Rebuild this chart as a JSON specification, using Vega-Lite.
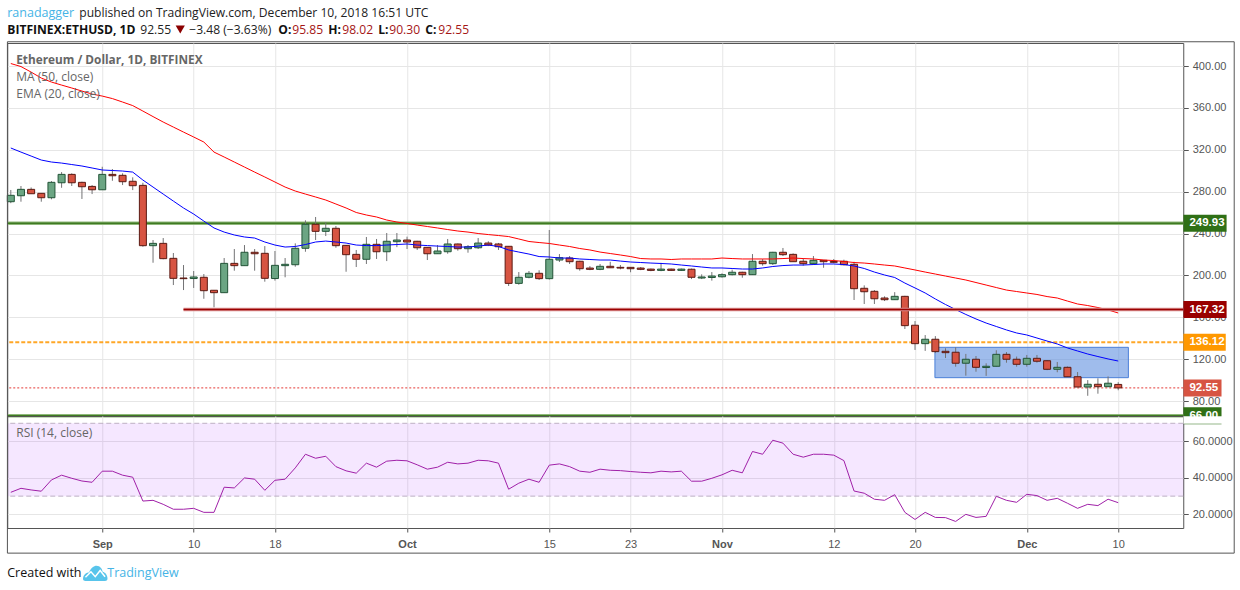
{"$schema":"https://vega.github.io/schema/vega-lite/v6.json","background":"white","padding":{"left":4.25,"top":0,"right":0,"bottom":0},"bounds":"flush","spacing":0,"config":{"view":{"stroke":null},"text":{"font":"Open Sans"}},
"datasets":{"d":[
{"date":"2018-08-23","o":270.4,"h":281.6,"l":269,"c":276.5,"ma":402.4,"ema":321.7,"rsi":32.1},
{"date":"2018-08-24","o":276.1,"h":285.4,"l":270.4,"c":282.2,"ma":399.5,"ema":317.8,"rsi":34.3},
{"date":"2018-08-25","o":282.2,"h":284,"l":278,"c":278,"ma":394.2,"ema":314,"rsi":33.4},
{"date":"2018-08-26","o":278.4,"h":278.4,"l":270.4,"c":274.2,"ma":388.5,"ema":310.2,"rsi":32.7},
{"date":"2018-08-27","o":274.2,"h":290.1,"l":272.7,"c":288.9,"ma":384.7,"ema":308.3,"rsi":38.9},
{"date":"2018-08-28","o":288.5,"h":298.7,"l":283.7,"c":296.5,"ma":381.8,"ema":307.3,"rsi":41.5},
{"date":"2018-08-29","o":296.5,"h":297.5,"l":285.4,"c":288.5,"ma":379,"ema":305.9,"rsi":39.8},
{"date":"2018-08-30","o":288.9,"h":289.5,"l":273,"c":284.7,"ma":376.1,"ema":304.5,"rsi":38.3},
{"date":"2018-08-31","o":285,"h":286.3,"l":277.7,"c":281.8,"ma":373.2,"ema":302.6,"rsi":37.6},
{"date":"2018-09-01","o":281.8,"h":303.8,"l":281.8,"c":296.5,"ma":371.3,"ema":300.7,"rsi":43.7},
{"date":"2018-09-02","o":296.5,"h":301.6,"l":290.4,"c":295.2,"ma":368.9,"ema":300.2,"rsi":43.7},
{"date":"2018-09-03","o":295.6,"h":297.5,"l":286.3,"c":289.5,"ma":365.6,"ema":299.7,"rsi":41.5},
{"date":"2018-09-04","o":289.9,"h":293.7,"l":281.5,"c":285.7,"ma":362.2,"ema":298.7,"rsi":40.4},
{"date":"2018-09-05","o":286,"h":288.5,"l":227.4,"c":228.4,"ma":357,"ema":291.1,"rsi":27.3},
{"date":"2018-09-06","o":228.4,"h":233.8,"l":212.1,"c":230.6,"ma":351.7,"ema":284.4,"rsi":27.7},
{"date":"2018-09-07","o":230.6,"h":235.7,"l":215.4,"c":216,"ma":346.5,"ema":277.7,"rsi":25.5},
{"date":"2018-09-08","o":216.3,"h":221.4,"l":190.8,"c":197.2,"ma":341.7,"ema":271,"rsi":22.8},
{"date":"2018-09-09","o":197.5,"h":209.9,"l":186,"c":196.9,"ma":336.9,"ema":264.4,"rsi":22.8},
{"date":"2018-09-10","o":197,"h":204.2,"l":188,"c":198.5,"ma":332.2,"ema":258.6,"rsi":23.3},
{"date":"2018-09-11","o":198.2,"h":201.3,"l":177.7,"c":185.4,"ma":327.4,"ema":251.9,"rsi":21.1},
{"date":"2018-09-12","o":185.8,"h":186,"l":169.5,"c":183.5,"ma":317.8,"ema":245.3,"rsi":21.1},
{"date":"2018-09-13","o":183.5,"h":216.6,"l":183.5,"c":211.5,"ma":313.1,"ema":241.4,"rsi":34.9},
{"date":"2018-09-14","o":211.5,"h":225.2,"l":204.5,"c":209.3,"ma":308.3,"ema":238.6,"rsi":34.5},
{"date":"2018-09-15","o":209.3,"h":229,"l":209.3,"c":222.1,"ma":303.5,"ema":236.7,"rsi":40},
{"date":"2018-09-16","o":222.1,"h":225.2,"l":204.5,"c":220.7,"ma":298.7,"ema":235.7,"rsi":39.3},
{"date":"2018-09-17","o":221.1,"h":228,"l":194,"c":197.2,"ma":294,"ema":231.9,"rsi":33.2},
{"date":"2018-09-18","o":197,"h":223.3,"l":195,"c":209.6,"ma":289.2,"ema":229,"rsi":38.7},
{"date":"2018-09-19","o":209.3,"h":216.6,"l":198.2,"c":210.6,"ma":284.4,"ema":227.1,"rsi":39.3},
{"date":"2018-09-20","o":210.2,"h":230.6,"l":208.3,"c":225.9,"ma":280.6,"ema":227.6,"rsi":45.5},
{"date":"2018-09-21","o":225.9,"h":252.6,"l":222.6,"c":248.8,"ma":277.7,"ema":229.5,"rsi":53},
{"date":"2018-09-22","o":248.8,"h":255.8,"l":233.8,"c":242.1,"ma":274.9,"ema":231.9,"rsi":50.8},
{"date":"2018-09-23","o":242.1,"h":250.7,"l":237.6,"c":245,"ma":272,"ema":232.8,"rsi":51.9},
{"date":"2018-09-24","o":245,"h":247.2,"l":226.4,"c":228.4,"ma":268.2,"ema":231.9,"rsi":46.2},
{"date":"2018-09-25","o":228.7,"h":229,"l":203.5,"c":219.8,"ma":264.4,"ema":230.9,"rsi":43.9},
{"date":"2018-09-26","o":220.1,"h":224.3,"l":208,"c":215.4,"ma":260.1,"ema":229,"rsi":42.6},
{"date":"2018-09-27","o":215.4,"h":236.7,"l":210.9,"c":229.7,"ma":257.7,"ema":228.5,"rsi":48.1},
{"date":"2018-09-28","o":229.7,"h":234.8,"l":215.7,"c":222.6,"ma":255.8,"ema":228.5,"rsi":45.9},
{"date":"2018-09-29","o":222.6,"h":240.5,"l":213.7,"c":232.6,"ma":252.9,"ema":229,"rsi":49.2},
{"date":"2018-09-30","o":232.2,"h":240.5,"l":227,"c":233.8,"ma":251,"ema":229.5,"rsi":49.7},
{"date":"2018-10-01","o":233.8,"h":237,"l":225.2,"c":231.9,"ma":249.6,"ema":230,"rsi":49.4},
{"date":"2018-10-02","o":232.6,"h":233,"l":224.3,"c":226.4,"ma":248.1,"ema":229,"rsi":47.2},
{"date":"2018-10-03","o":226.8,"h":227,"l":214.7,"c":220.7,"ma":246.7,"ema":228.5,"rsi":44.8},
{"date":"2018-10-04","o":220.7,"h":229,"l":220.5,"c":223.3,"ma":245.3,"ema":228,"rsi":45.9},
{"date":"2018-10-05","o":222.6,"h":234.8,"l":220.7,"c":230,"ma":243.8,"ema":227.6,"rsi":48.6},
{"date":"2018-10-06","o":230,"h":230.5,"l":223.6,"c":225.5,"ma":242.4,"ema":227.1,"rsi":47.7},
{"date":"2018-10-07","o":225.5,"h":229,"l":221.7,"c":227.4,"ma":241.4,"ema":227.1,"rsi":48.1},
{"date":"2018-10-08","o":226.4,"h":235.7,"l":225.2,"c":230.9,"ma":240,"ema":228,"rsi":49.7},
{"date":"2018-10-09","o":230.9,"h":232.6,"l":228,"c":229,"ma":239,"ema":229,"rsi":49.4},
{"date":"2018-10-10","o":230,"h":231,"l":224.3,"c":227.4,"ma":238.1,"ema":227.6,"rsi":48.1},
{"date":"2018-10-11","o":227.8,"h":228,"l":189.9,"c":192.4,"ma":237.1,"ema":224.3,"rsi":33.8},
{"date":"2018-10-12","o":192.4,"h":203.2,"l":191.1,"c":198.2,"ma":234.8,"ema":222.3,"rsi":37.1},
{"date":"2018-10-13","o":198.2,"h":204.2,"l":197.2,"c":202,"ma":232.4,"ema":220.4,"rsi":39.3},
{"date":"2018-10-14","o":202,"h":204.9,"l":195.6,"c":196.9,"ma":231.4,"ema":218,"rsi":37.6},
{"date":"2018-10-15","o":196.9,"h":243.4,"l":196,"c":215.4,"ma":230.5,"ema":217.6,"rsi":47},
{"date":"2018-10-16","o":214.7,"h":220.4,"l":212.8,"c":216.9,"ma":229,"ema":216.6,"rsi":47.7},
{"date":"2018-10-17","o":216.6,"h":218.5,"l":210.9,"c":213.1,"ma":227.6,"ema":216.6,"rsi":46.2},
{"date":"2018-10-18","o":213.5,"h":214,"l":204.5,"c":206.4,"ma":225.7,"ema":215.7,"rsi":43.7},
{"date":"2018-10-19","o":207,"h":208.9,"l":205,"c":205.8,"ma":224.3,"ema":215.2,"rsi":43.1},
{"date":"2018-10-20","o":205.8,"h":210.9,"l":205,"c":208.7,"ma":222.3,"ema":214.7,"rsi":44.8},
{"date":"2018-10-21","o":208.7,"h":213,"l":207,"c":207.3,"ma":220.9,"ema":214.7,"rsi":44.2},
{"date":"2018-10-22","o":207.7,"h":209.9,"l":205.8,"c":207,"ma":219.5,"ema":213.7,"rsi":44},
{"date":"2018-10-23","o":207.7,"h":208,"l":203,"c":206.4,"ma":218,"ema":212.8,"rsi":43.5},
{"date":"2018-10-24","o":207,"h":208,"l":205,"c":205.8,"ma":216.1,"ema":212.3,"rsi":43.1},
{"date":"2018-10-25","o":206,"h":206.5,"l":204,"c":204.8,"ma":215.7,"ema":211.8,"rsi":42.8},
{"date":"2018-10-26","o":204.8,"h":212,"l":204,"c":206,"ma":215.7,"ema":211.4,"rsi":43.7},
{"date":"2018-10-27","o":206,"h":206.5,"l":204.2,"c":204.8,"ma":215.2,"ema":210.9,"rsi":43.3},
{"date":"2018-10-28","o":204.8,"h":206.5,"l":204.2,"c":206,"ma":215.7,"ema":209.9,"rsi":43.7},
{"date":"2018-10-29","o":205.9,"h":206.5,"l":196.5,"c":198.2,"ma":215.7,"ema":209,"rsi":38.2},
{"date":"2018-10-30","o":197.5,"h":201,"l":196.5,"c":198.5,"ma":215.7,"ema":208,"rsi":38.2},
{"date":"2018-10-31","o":198,"h":203.2,"l":195,"c":199.4,"ma":215.7,"ema":207.1,"rsi":39.8},
{"date":"2018-11-01","o":198.7,"h":202,"l":197.9,"c":200.7,"ma":216.6,"ema":207.1,"rsi":41.7},
{"date":"2018-11-02","o":200.7,"h":205.5,"l":200,"c":203,"ma":216.1,"ema":206.6,"rsi":44.2},
{"date":"2018-11-03","o":203,"h":203.5,"l":197.8,"c":200.7,"ma":215.7,"ema":206.1,"rsi":42.8},
{"date":"2018-11-04","o":200.7,"h":220.4,"l":200.5,"c":213.5,"ma":215.7,"ema":206.1,"rsi":54.5},
{"date":"2018-11-05","o":213.5,"h":215.7,"l":209.3,"c":211.2,"ma":215.7,"ema":207.1,"rsi":53},
{"date":"2018-11-06","o":211.2,"h":222.5,"l":210,"c":222.1,"ma":215.7,"ema":208.5,"rsi":60.7},
{"date":"2018-11-07","o":222.1,"h":226.2,"l":218.5,"c":219.8,"ma":216.1,"ema":209.4,"rsi":59.1},
{"date":"2018-11-08","o":220.1,"h":221,"l":213,"c":213.1,"ma":216.6,"ema":209.9,"rsi":53},
{"date":"2018-11-09","o":213.5,"h":216.6,"l":209.3,"c":211.2,"ma":216.1,"ema":209.9,"rsi":51.4},
{"date":"2018-11-10","o":211.2,"h":218.5,"l":210,"c":214.4,"ma":215.7,"ema":210.4,"rsi":53},
{"date":"2018-11-11","o":214.4,"h":214.8,"l":207.3,"c":213.1,"ma":214.7,"ema":210.9,"rsi":53},
{"date":"2018-11-12","o":213.3,"h":215.7,"l":211.5,"c":212.5,"ma":214.2,"ema":210.9,"rsi":52.5},
{"date":"2018-11-13","o":213.5,"h":215,"l":209.5,"c":210.2,"ma":213.3,"ema":210.4,"rsi":49.5},
{"date":"2018-11-14","o":210.6,"h":213,"l":176.5,"c":187.3,"ma":212.3,"ema":209,"rsi":32.8},
{"date":"2018-11-15","o":187.7,"h":190.5,"l":172.7,"c":184.4,"ma":211.8,"ema":206.6,"rsi":31.6},
{"date":"2018-11-16","o":184.8,"h":186,"l":172.7,"c":177.7,"ma":210.9,"ema":203.2,"rsi":28.3},
{"date":"2018-11-17","o":178.4,"h":180,"l":175.5,"c":176.8,"ma":209.9,"ema":200.4,"rsi":27.7},
{"date":"2018-11-18","o":176.8,"h":184,"l":176.5,"c":180,"ma":209,"ema":198,"rsi":30.8},
{"date":"2018-11-19","o":180,"h":180.5,"l":148.8,"c":152,"ma":207.1,"ema":192.7,"rsi":21.1},
{"date":"2018-11-20","o":152.4,"h":156.4,"l":128.8,"c":134.8,"ma":205.2,"ema":188,"rsi":17.2},
{"date":"2018-11-21","o":134.8,"h":143,"l":127.9,"c":139,"ma":203.2,"ema":183.2,"rsi":21.1},
{"date":"2018-11-22","o":139,"h":142,"l":125.8,"c":127.2,"ma":201.3,"ema":177.5,"rsi":18.3},
{"date":"2018-11-23","o":127.5,"h":130.4,"l":121.1,"c":126.2,"ma":199.4,"ema":172.2,"rsi":18.2},
{"date":"2018-11-24","o":126.6,"h":131.3,"l":112.8,"c":116.1,"ma":197.5,"ema":167.4,"rsi":16.1},
{"date":"2018-11-25","o":116.1,"h":125,"l":104.2,"c":119.9,"ma":195.6,"ema":162.7,"rsi":20},
{"date":"2018-11-26","o":119.9,"h":123,"l":108,"c":112.2,"ma":193.2,"ema":158.4,"rsi":18.3},
{"date":"2018-11-27","o":112,"h":116,"l":104,"c":113.2,"ma":190.8,"ema":154.5,"rsi":18.9},
{"date":"2018-11-28","o":113.2,"h":128.5,"l":113,"c":124.6,"ma":188.4,"ema":151.2,"rsi":29.9},
{"date":"2018-11-29","o":124.6,"h":126.8,"l":116.6,"c":119.9,"ma":186,"ema":147.9,"rsi":27.7},
{"date":"2018-11-30","o":119.9,"h":122.5,"l":112.8,"c":115.1,"ma":184.6,"ema":145,"rsi":26.6},
{"date":"2018-12-01","o":115.1,"h":124,"l":112.8,"c":120.8,"ma":183.2,"ema":143.1,"rsi":31},
{"date":"2018-12-02","o":120.8,"h":124,"l":116.6,"c":118,"ma":181.8,"ema":140.2,"rsi":30.3},
{"date":"2018-12-03","o":118.5,"h":119,"l":109.5,"c":110.3,"ma":179.8,"ema":137.3,"rsi":27.7},
{"date":"2018-12-04","o":110.3,"h":117.3,"l":107.5,"c":112.2,"ma":178.4,"ema":134.5,"rsi":28.8},
{"date":"2018-12-05","o":112.2,"h":113,"l":103,"c":103.2,"ma":175.5,"ema":130.7,"rsi":26.1},
{"date":"2018-12-06","o":103.2,"h":107.7,"l":93.4,"c":93.4,"ma":172.7,"ema":127.8,"rsi":23.3},
{"date":"2018-12-07","o":93.4,"h":100,"l":85,"c":96,"ma":171.2,"ema":124.9,"rsi":25.5},
{"date":"2018-12-08","o":96,"h":101.7,"l":87,"c":93.7,"ma":169.3,"ema":122.5,"rsi":24.8},
{"date":"2018-12-09","o":93.7,"h":103.5,"l":93.5,"c":97,"ma":167,"ema":120.2,"rsi":28.3},
{"date":"2018-12-10","o":95.85,"h":98.02,"l":90.3,"c":92.55,"ma":164.1,"ema":118.2,"rsi":26.4}
],
"levels":[
{"label":"249.93","level":249.93,"start":"2018-08-22T16:00:00Z","tagStart":"2018-12-16T10:00:00Z","tagEnd":"2018-12-20T16:00:00Z"},
{"label":"167.32","level":167.32,"start":"2018-09-09T00:00:00Z","tagStart":"2018-12-16T10:00:00Z","tagEnd":"2018-12-20T16:00:00Z"},
{"label":"136.12","level":136.12,"start":"2018-08-22T16:00:00Z","tagStart":"2018-12-16T10:00:00Z","tagEnd":"2018-12-20T14:00:00Z"},
{"label":"92.55","level":92.55,"start":"2018-08-22T16:00:00Z","tagStart":"2018-12-16T10:00:00Z","tagEnd":"2018-12-20T04:00:00Z"},
{"label":"66.00","level":66,"start":"2018-08-22T16:00:00Z","tagStart":"2018-12-16T10:00:00Z","tagEnd":"2018-12-20T04:00:00Z"}
]},
"vconcat":[
{"width":1176,"height":43,"data":{"values":[{"a":1}]},"layer":[
{"mark":{"type":"text","x":0,"y":13,"align":"left","font":"Open Sans","fontSize":12.5,"fill":"#45b4e6"},"encoding":{"text":{"datum":"ranadagger"}}},
{"mark":{"type":"text","x":72,"y":13,"align":"left","font":"Open Sans","fontSize":12.1,"fill":"#222222"},"encoding":{"text":{"datum":"published on TradingView.com, December 10, 2018 16:51 UTC"}}},
{"mark":{"type":"text","x":0,"y":29.5,"align":"left","font":"Open Sans","fontSize":12.1,"fontWeight":"bold","fill":"#111111"},"encoding":{"text":{"datum":"BITFINEX:ETHUSD, 1D"}}},
{"mark":{"type":"text","x":133,"y":29.5,"align":"left","font":"Open Sans","fontSize":12.1,"fill":"#222222"},"encoding":{"text":{"datum":"92.55"}}},
{"mark":{"type":"point","x":173,"y":29.5,"shape":"triangle-down","filled":true,"size":85,"fill":"#8b0000","opacity":1},"encoding":{}},
{"mark":{"type":"text","x":182,"y":29.5,"align":"left","font":"Open Sans","fontSize":12.1,"fill":"#222222"},"encoding":{"text":{"datum":"−3.48 (−3.63%)"}}},
{"mark":{"type":"text","x":271,"y":29.5,"align":"left","font":"Open Sans","fontSize":12.1,"fontWeight":"bold","fill":"#111111"},"encoding":{"text":{"datum":"O:"}}},
{"mark":{"type":"text","x":285,"y":29.5,"align":"left","font":"Open Sans","fontSize":12.1,"fill":"#a51616"},"encoding":{"text":{"datum":"95.85"}}},
{"mark":{"type":"text","x":321,"y":29.5,"align":"left","font":"Open Sans","fontSize":12.1,"fontWeight":"bold","fill":"#111111"},"encoding":{"text":{"datum":"H:"}}},
{"mark":{"type":"text","x":335,"y":29.5,"align":"left","font":"Open Sans","fontSize":12.1,"fill":"#a51616"},"encoding":{"text":{"datum":"98.02"}}},
{"mark":{"type":"text","x":371,"y":29.5,"align":"left","font":"Open Sans","fontSize":12.1,"fontWeight":"bold","fill":"#111111"},"encoding":{"text":{"datum":"L:"}}},
{"mark":{"type":"text","x":382,"y":29.5,"align":"left","font":"Open Sans","fontSize":12.1,"fill":"#a51616"},"encoding":{"text":{"datum":"90.30"}}},
{"mark":{"type":"text","x":418,"y":29.5,"align":"left","font":"Open Sans","fontSize":12.1,"fontWeight":"bold","fill":"#111111"},"encoding":{"text":{"datum":"C:"}}},
{"mark":{"type":"text","x":431,"y":29.5,"align":"left","font":"Open Sans","fontSize":12.1,"fill":"#a51616"},"encoding":{"text":{"datum":"92.55"}}}
]},
{"width":1176,"height":373,"view":{"stroke":"#555555","strokeWidth":1},"layer":[
{"data":{"name":"levels"},"transform":[{"filter":"datum.label=='249.93'||datum.label=='66.00'"}],"mark":{"type":"rule","stroke":"#8fb77a","strokeWidth":3.5},"encoding":{
"x":{"field":"start","type":"temporal","scale":{"type":"utc","domain":[1534952160000,1544952960000],"nice":false,"padding":0},"axis":{"values":[1535760000000,1536537600000,1537228800000,1538352000000,1539561600000,1540252800000,1541030400000,1541980800000,1542672000000,1543622400000,1544400000000],"labels":false,"ticks":false,"domain":false,"grid":true,"gridColor":"#e6e6e6","title":null}},
"x2":{"datum":1544952960000},
"y":{"field":"level","type":"quantitative","scale":{"domain":[65.7,422],"nice":false,"zero":false},"axis":{"orient":"right","values":[80,120,160,200,240,280,320,360,400],"format":".2f","title":null,"domain":false,"grid":true,"gridColor":"#e6e6e6","tickColor":"#555555","tickSize":5,"labelColor":"#555555","labelFont":"Liberation Sans","labelFontSize":11,"labelPadding":4}}}},
{"data":{"name":"levels"},"transform":[{"filter":"datum.label=='249.93'||datum.label=='66.00'"}],"mark":{"type":"rule","stroke":"#3f7a22","strokeWidth":1.5},"encoding":{"y":{"field":"level","type":"quantitative"}}},
{"data":{"name":"levels"},"transform":[{"filter":"datum.label=='136.12'"}],"mark":{"type":"rule","stroke":"#ff9800","strokeWidth":2,"strokeDash":[4,2],"opacity":0.85},"encoding":{"y":{"field":"level","type":"quantitative"}}},
{"data":{"name":"levels"},"transform":[{"filter":"datum.label=='92.55'"}],"mark":{"type":"rule","stroke":"#e53935","strokeWidth":1,"strokeDash":[2,2]},"encoding":{"y":{"field":"level","type":"quantitative"}}},
{"data":{"values":[{"x1":"2018-11-21T23:00:00Z","x2":"2018-12-11T00:00:00Z","top":131.3,"bottom":102.3}]},"mark":{"type":"rect","fill":"#5f8fe0","fillOpacity":0.6,"stroke":"#4a7fd8","strokeWidth":1},"encoding":{"x":{"field":"x1","type":"temporal","scale":{"type":"utc"}},"x2":{"field":"x2"},"y":{"field":"top","type":"quantitative"},"y2":{"field":"bottom"}}},
{"data":{"name":"d"},"mark":{"type":"rule","stroke":"#737375","strokeWidth":1},"encoding":{"x":{"field":"date","type":"temporal","scale":{"type":"utc"}},"y":{"field":"l","type":"quantitative"},"y2":{"field":"h"}}},
{"data":{"name":"d"},"mark":{"type":"bar","size":7,"strokeWidth":1},"encoding":{"x":{"field":"date","type":"temporal","scale":{"type":"utc"}},"y":{"field":"o","type":"quantitative"},"y2":{"field":"c"},
"fill":{"condition":{"test":"datum.c>=datum.o","value":"#6ba583"},"value":"#d75442"},"stroke":{"condition":{"test":"datum.c>=datum.o","value":"#225437"},"value":"#5b1a13"}}},
{"data":{"name":"d"},"mark":{"type":"line","stroke":"#ff0000","strokeWidth":1},"encoding":{"x":{"field":"date","type":"temporal","scale":{"type":"utc"}},"y":{"field":"ma","type":"quantitative"}}},
{"data":{"name":"d"},"mark":{"type":"line","stroke":"#0000ff","strokeWidth":1},"encoding":{"x":{"field":"date","type":"temporal","scale":{"type":"utc"}},"y":{"field":"ema","type":"quantitative"}}},
{"data":{"name":"levels"},"transform":[{"filter":"datum.label=='167.32'"}],"mark":{"type":"rule","stroke":"#d98c8c","strokeWidth":3.5},"encoding":{"x":{"field":"start","type":"temporal","scale":{"type":"utc"}},"x2":{"datum":1544952960000},"y":{"field":"level","type":"quantitative"}}},
{"data":{"name":"levels"},"transform":[{"filter":"datum.label=='167.32'"}],"mark":{"type":"rule","stroke":"#9b0000","strokeWidth":1.5},"encoding":{"x":{"field":"start","type":"temporal","scale":{"type":"utc"}},"x2":{"datum":1544952960000},"y":{"field":"level","type":"quantitative"}}},
{"data":{"name":"levels"},"mark":{"type":"rect","height":17},"encoding":{"x":{"field":"tagStart","type":"temporal","scale":{"type":"utc"}},"x2":{"field":"tagEnd"},"y":{"field":"level","type":"quantitative"},"fill":{"field":"label","type":"nominal","legend":null,"scale":{"domain":["249.93","167.32","136.12","92.55","66.00"],"range":["#2f7016","#990000","#ff9800","#d75442","#2f7016"]}}}},
{"data":{"name":"levels"},"mark":{"type":"text","align":"left","dx":6,"font":"Liberation Sans","fontSize":11.5,"fontWeight":"bold","fill":"white"},"encoding":{"x":{"field":"tagStart","type":"temporal","scale":{"type":"utc"}},"y":{"field":"level","type":"quantitative"},"text":{"field":"label"}}},
{"data":{"values":[{"a":1}]},"mark":{"type":"text","x":9,"y":17,"align":"left","font":"Open Sans","fontSize":11.8,"fontWeight":"bold","fill":"#666666"},"encoding":{"text":{"datum":"Ethereum / Dollar, 1D, BITFINEX"}}},
{"data":{"values":[{"a":1}]},"mark":{"type":"text","x":9,"y":34,"align":"left","font":"Open Sans","fontSize":12,"fill":"#666666"},"encoding":{"text":{"datum":"MA (50, close)"}}},
{"data":{"values":[{"a":1}]},"mark":{"type":"text","x":9,"y":51,"align":"left","font":"Open Sans","fontSize":12,"fill":"#666666"},"encoding":{"text":{"datum":"EMA (20, close)"}}}
]},
{"width":1176,"height":112,"view":{"stroke":"#555555","strokeWidth":1},"layer":[
{"data":{"values":[{"x1":"2018-08-22T16:00:00Z","x2":"2018-12-16T10:00:00Z","top":70,"bottom":30}]},"mark":{"type":"rect","fill":"#9915ff","fillOpacity":0.1},"encoding":{
"x":{"field":"x1","type":"temporal","scale":{"type":"utc","domain":[1534952160000,1544952960000],"nice":false,"padding":0},"axis":{"values":[1535760000000,1536537600000,1537228800000,1538352000000,1539561600000,1540252800000,1541030400000,1541980800000,1542672000000,1543622400000,1544400000000],"labelExpr":"utcdate(datum.value)==1?utcFormat(datum.value,'%b'):utcFormat(datum.value,'%-d')","labelFontWeight":{"condition":{"test":"utcdate(datum.value)==1","value":"bold"},"value":"normal"},"labelFont":"Liberation Sans","labelFontSize":11,"labelColor":"#555555","labelPadding":6,"labelOverlap":false,"tickColor":"#555555","tickSize":4,"domain":false,"grid":true,"gridColor":"#e6e6e6","title":null}},
"x2":{"field":"x2"},
"y":{"field":"top","type":"quantitative","scale":{"domain":[12.5,74],"nice":false,"zero":false},"axis":{"orient":"right","values":[20,40,60],"format":".4f","title":null,"domain":false,"grid":true,"gridColor":"#e6e6e6","tickColor":"#555555","tickSize":5,"labelColor":"#555555","labelFont":"Liberation Sans","labelFontSize":11,"labelPadding":4}},"y2":{"field":"bottom"}}},
{"data":{"values":[{"v":70},{"v":30}]},"mark":{"type":"rule","stroke":"#bdb0c4","strokeWidth":1,"strokeDash":[5,3]},"encoding":{"y":{"field":"v","type":"quantitative"}}},
{"data":{"name":"d"},"mark":{"type":"line","stroke":"#a020a8","strokeWidth":1},"encoding":{"x":{"field":"date","type":"temporal","scale":{"type":"utc"}},"y":{"field":"rsi","type":"quantitative"}}},
{"data":{"values":[{"x1":"2018-12-16T10:00:00Z","x2":"2018-12-21T00:00:00Z","top":73.8,"bottom":69.7}]},"mark":{"type":"rect","fill":"white"},"encoding":{"x":{"field":"x1","type":"temporal","scale":{"type":"utc"}},"x2":{"field":"x2"},"y":{"field":"top","type":"quantitative"},"y2":{"field":"bottom"}}},
{"data":{"values":[{"a":1}]},"mark":{"type":"text","x":9,"y":17,"align":"left","font":"Open Sans","fontSize":12,"fill":"#666666"},"encoding":{"text":{"datum":"RSI (14, close)"}}},
{"data":{"values":[{"x1":"2018-08-22T16:00:00Z","x2":"2018-12-21T10:00:00Z","top":279.5,"bottom":-1.3}]},"mark":{"type":"rect","filled":false,"fill":null,"stroke":"#555555","strokeWidth":1},"encoding":{"x":{"field":"x1","type":"temporal","scale":{"type":"utc"}},"x2":{"field":"x2"},"y":{"field":"top","type":"quantitative"},"y2":{"field":"bottom"}}}
]},
{"width":1176,"height":62,"data":{"values":[{"a":1}]},"layer":[
{"mark":{"type":"text","x":0,"y":45,"align":"left","font":"Open Sans","fontSize":12.5,"fill":"#111111"},"encoding":{"text":{"datum":"Created with"}}},
{"mark":{"type":"point","x":88,"y":45,"filled":true,"opacity":1,"fill":"#58c4eb","size":600,"shape":"M-1,0.5 C-1,0.1 -0.7,-0.05 -0.5,-0.05 C-0.4,-0.4 -0.1,-0.6 0.1,-0.6 C0.4,-0.6 0.6,-0.3 0.6,-0.1 C0.85,-0.05 1,0.2 1,0.45 C1,0.6 0.9,0.65 0.8,0.65 L-0.8,0.65 C-0.9,0.65 -1,0.6 -1,0.5 Z"},"encoding":{}},
{"mark":{"type":"point","x":88,"y":45,"filled":false,"opacity":1,"stroke":"white","strokeWidth":1.5,"size":600,"shape":"M-0.8,0.35 L-0.35,-0.1 L0,0.3 L0.4,-0.2 L0.8,0.3"},"encoding":{}},
{"mark":{"type":"text","x":100,"y":45,"align":"left","font":"Open Sans","fontSize":12.5,"fill":"#45b4e6"},"encoding":{"text":{"datum":"TradingView"}}}
]}
]}
